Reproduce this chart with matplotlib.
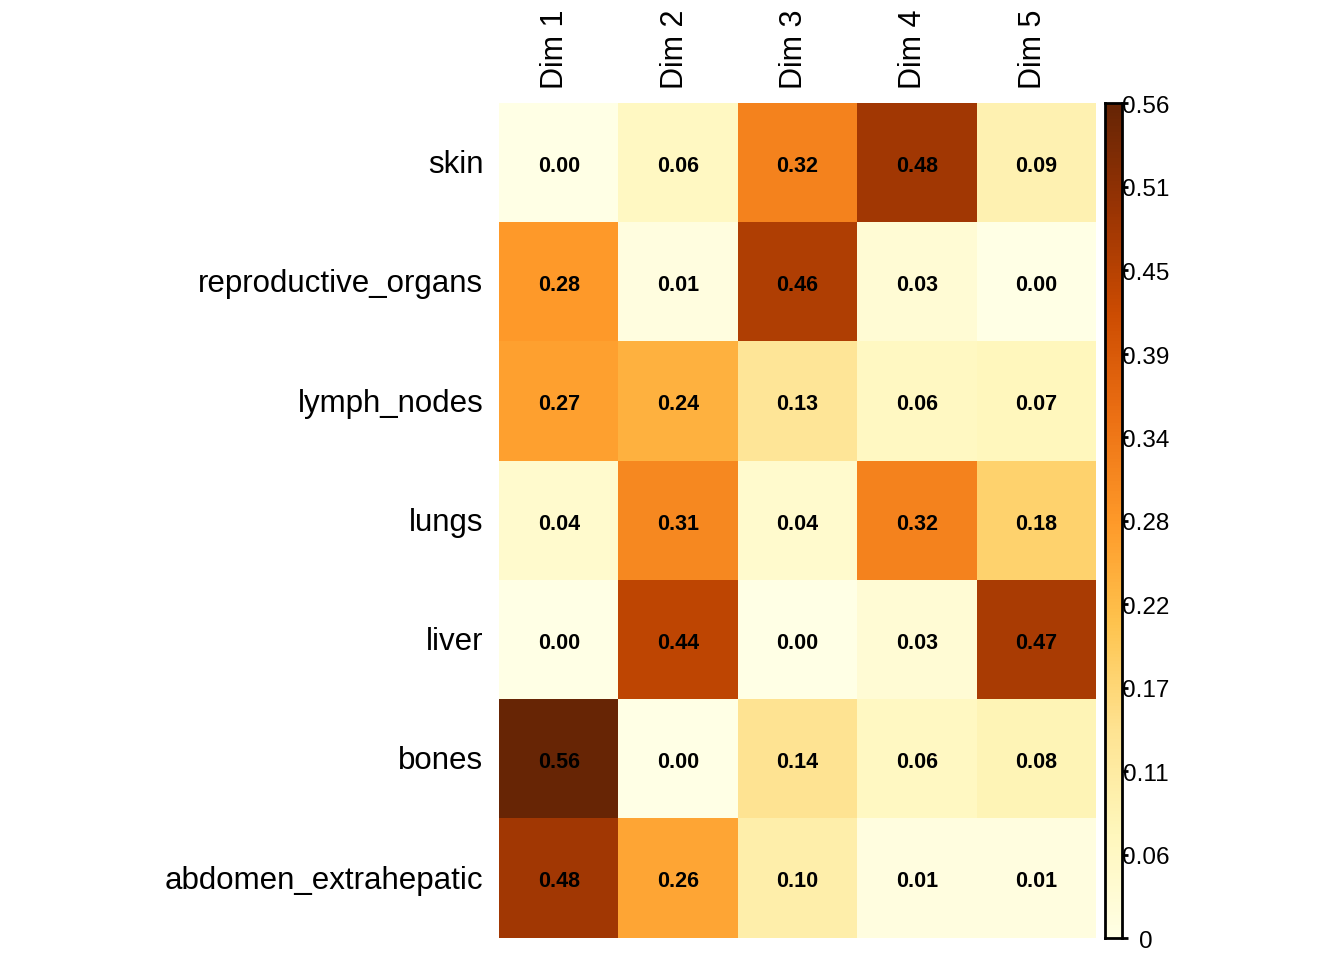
import numpy as np
import matplotlib
matplotlib.use("Agg")
import matplotlib.pyplot as plt

plt.rcParams["font.family"] = ["Liberation Sans", "DejaVu Sans"]

rows = ["skin", "reproductive_organs", "lymph_nodes", "lungs", "liver",
        "bones", "abdomen_extrahepatic"]
cols = ["Dim 1", "Dim 2", "Dim 3", "Dim 4", "Dim 5"]
values = np.array([
    [0.00, 0.06, 0.32, 0.48, 0.09],
    [0.28, 0.01, 0.46, 0.03, 0.00],
    [0.27, 0.24, 0.13, 0.06, 0.07],
    [0.04, 0.31, 0.04, 0.32, 0.18],
    [0.00, 0.44, 0.00, 0.03, 0.47],
    [0.56, 0.00, 0.14, 0.06, 0.08],
    [0.48, 0.26, 0.10, 0.01, 0.01],
])
vmax = 0.563
cbar_labels = ["0", "0.06", "0.11", "0.17", "0.22", "0.28",
               "0.34", "0.39", "0.45", "0.51", "0.56"]

W, H = 1344, 960
fig = plt.figure(figsize=(W / 100, H / 100), dpi=100)

# main grid
ax = fig.add_axes([499 / W, 1 - 938 / H, 597 / W, 835 / H])
nr, nc = values.shape
ax.imshow(values, cmap="YlOrBr", vmin=0, vmax=vmax, aspect="auto",
          extent=(0, nc, nr, 0), interpolation="nearest")
ax.set_xlim(0, nc)
ax.set_ylim(nr, 0)
ax.axis("off")
for i in range(nr):
    for j in range(nc):
        ax.text(j + 0.5, i + 0.53, f"{values[i, j]:.2f}", ha="center",
                va="center", fontsize=15.5, fontweight="bold", color="black")
for i, r in enumerate(rows):
    ax.text(-0.13, i + 0.52, r, ha="right", va="center", fontsize=22.5)
for j, c in enumerate(cols):
    ax.text(j + 0.47, -0.12, c, ha="center", va="bottom", rotation=90,
            fontsize=22)

# colour bar
cax = fig.add_axes([1105 / W, 1 - 938 / H, 17 / W, 835 / H])
grad = np.linspace(0, vmax, 256).reshape(-1, 1)
cax.imshow(grad, cmap="YlOrBr", vmin=0, vmax=vmax, aspect="auto",
           origin="lower", extent=(0, 1, 0, vmax))
cax.set_xlim(0, 1)
cax.set_ylim(0, vmax)
cax.set_xticks([])
cax.set_yticks([])
for s in cax.spines.values():
    s.set_linewidth(2)
ticks = np.linspace(0, vmax, len(cbar_labels))
dy = vmax * 4 / 835
for t, lab in zip(ticks, cbar_labels):
    cax.plot([1, 1.35], [t, t], color="black", lw=2, clip_on=False,
             solid_capstyle="butt")
    cax.text(2.4, t - dy, lab, ha="center", va="center", fontsize=17.5)

plt.savefig("out.png", dpi=100)
plt.close()
